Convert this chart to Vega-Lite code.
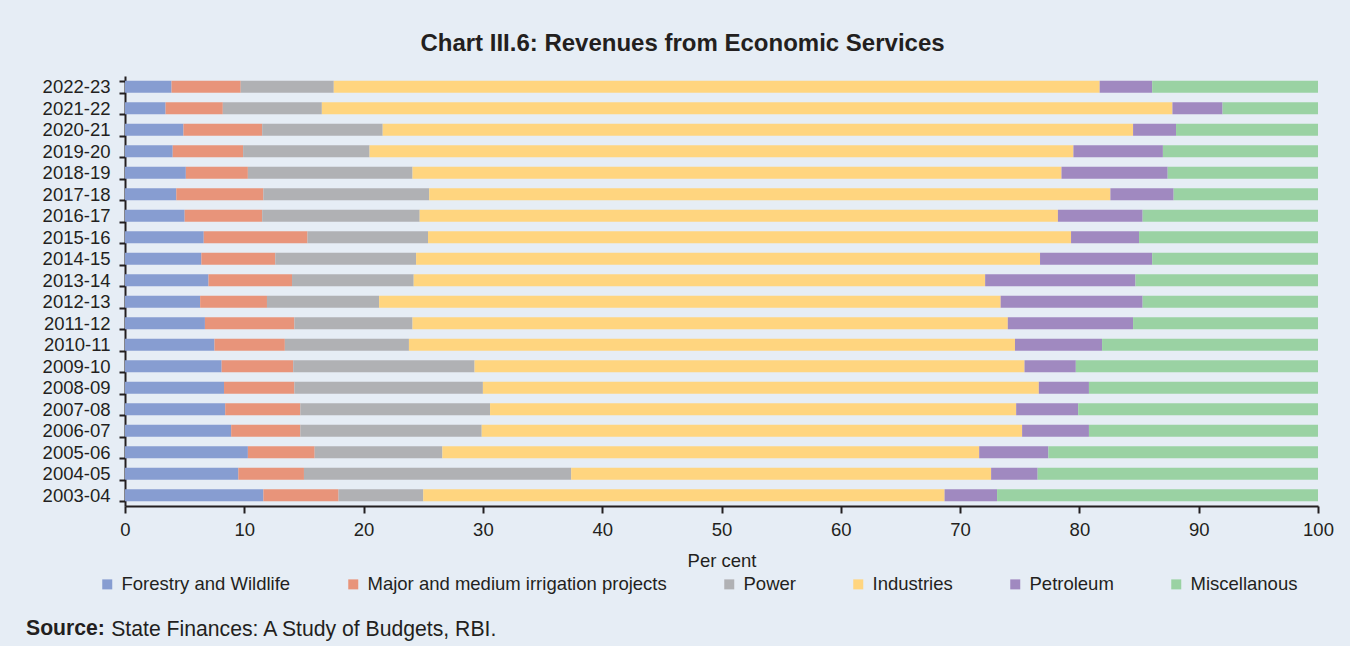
{
  "$schema": "https://vega.github.io/schema/vega-lite/v6.json",
  "width": 1193,
  "height": 430,
  "autosize": {"type": "none"},
  "padding": {"left": 125, "top": 76, "right": 32, "bottom": 140},
  "background": "#e6edf5",
  "config": {
    "view": {"stroke": null},
    "font": "Liberation Sans",
    "text": {"font": "Liberation Sans"}
  },
  "title": {
    "text": "Chart III.6: Revenues from Economic Services",
    "font": "Liberation Sans",
    "fontSize": 24,
    "fontWeight": "bold",
    "color": "#231f20",
    "anchor": "middle",
    "frame": "group",
    "dx": -39,
    "offset": 11
  },
  "layer": [
    {
      "data": {
        "values": [
          {"year": "2022-23", "category": "Forestry and Wildlife", "value": 3.9},
          {"year": "2022-23", "category": "Major and medium irrigation projects", "value": 5.8},
          {"year": "2022-23", "category": "Power", "value": 7.8},
          {"year": "2022-23", "category": "Industries", "value": 64.2},
          {"year": "2022-23", "category": "Petroleum", "value": 4.4},
          {"year": "2022-23", "category": "Miscellanous", "value": 13.9},
          {"year": "2021-22", "category": "Forestry and Wildlife", "value": 3.4},
          {"year": "2021-22", "category": "Major and medium irrigation projects", "value": 4.8},
          {"year": "2021-22", "category": "Power", "value": 8.3},
          {"year": "2021-22", "category": "Industries", "value": 71.3},
          {"year": "2021-22", "category": "Petroleum", "value": 4.2},
          {"year": "2021-22", "category": "Miscellanous", "value": 8.0},
          {"year": "2020-21", "category": "Forestry and Wildlife", "value": 4.9},
          {"year": "2020-21", "category": "Major and medium irrigation projects", "value": 6.6},
          {"year": "2020-21", "category": "Power", "value": 10.1},
          {"year": "2020-21", "category": "Industries", "value": 62.9},
          {"year": "2020-21", "category": "Petroleum", "value": 3.6},
          {"year": "2020-21", "category": "Miscellanous", "value": 11.9},
          {"year": "2019-20", "category": "Forestry and Wildlife", "value": 4.0},
          {"year": "2019-20", "category": "Major and medium irrigation projects", "value": 5.9},
          {"year": "2019-20", "category": "Power", "value": 10.6},
          {"year": "2019-20", "category": "Industries", "value": 59.0},
          {"year": "2019-20", "category": "Petroleum", "value": 7.5},
          {"year": "2019-20", "category": "Miscellanous", "value": 13.0},
          {"year": "2018-19", "category": "Forestry and Wildlife", "value": 5.1},
          {"year": "2018-19", "category": "Major and medium irrigation projects", "value": 5.2},
          {"year": "2018-19", "category": "Power", "value": 13.8},
          {"year": "2018-19", "category": "Industries", "value": 54.4},
          {"year": "2018-19", "category": "Petroleum", "value": 8.9},
          {"year": "2018-19", "category": "Miscellanous", "value": 12.6},
          {"year": "2017-18", "category": "Forestry and Wildlife", "value": 4.3},
          {"year": "2017-18", "category": "Major and medium irrigation projects", "value": 7.3},
          {"year": "2017-18", "category": "Power", "value": 13.9},
          {"year": "2017-18", "category": "Industries", "value": 57.1},
          {"year": "2017-18", "category": "Petroleum", "value": 5.3},
          {"year": "2017-18", "category": "Miscellanous", "value": 12.1},
          {"year": "2016-17", "category": "Forestry and Wildlife", "value": 5.0},
          {"year": "2016-17", "category": "Major and medium irrigation projects", "value": 6.5},
          {"year": "2016-17", "category": "Power", "value": 13.2},
          {"year": "2016-17", "category": "Industries", "value": 53.5},
          {"year": "2016-17", "category": "Petroleum", "value": 7.1},
          {"year": "2016-17", "category": "Miscellanous", "value": 14.7},
          {"year": "2015-16", "category": "Forestry and Wildlife", "value": 6.6},
          {"year": "2015-16", "category": "Major and medium irrigation projects", "value": 8.7},
          {"year": "2015-16", "category": "Power", "value": 10.1},
          {"year": "2015-16", "category": "Industries", "value": 53.9},
          {"year": "2015-16", "category": "Petroleum", "value": 5.7},
          {"year": "2015-16", "category": "Miscellanous", "value": 15.0},
          {"year": "2014-15", "category": "Forestry and Wildlife", "value": 6.4},
          {"year": "2014-15", "category": "Major and medium irrigation projects", "value": 6.2},
          {"year": "2014-15", "category": "Power", "value": 11.8},
          {"year": "2014-15", "category": "Industries", "value": 52.3},
          {"year": "2014-15", "category": "Petroleum", "value": 9.4},
          {"year": "2014-15", "category": "Miscellanous", "value": 13.9},
          {"year": "2013-14", "category": "Forestry and Wildlife", "value": 7.0},
          {"year": "2013-14", "category": "Major and medium irrigation projects", "value": 7.0},
          {"year": "2013-14", "category": "Power", "value": 10.2},
          {"year": "2013-14", "category": "Industries", "value": 47.9},
          {"year": "2013-14", "category": "Petroleum", "value": 12.6},
          {"year": "2013-14", "category": "Miscellanous", "value": 15.3},
          {"year": "2012-13", "category": "Forestry and Wildlife", "value": 6.3},
          {"year": "2012-13", "category": "Major and medium irrigation projects", "value": 5.6},
          {"year": "2012-13", "category": "Power", "value": 9.4},
          {"year": "2012-13", "category": "Industries", "value": 52.1},
          {"year": "2012-13", "category": "Petroleum", "value": 11.9},
          {"year": "2012-13", "category": "Miscellanous", "value": 14.7},
          {"year": "2011-12", "category": "Forestry and Wildlife", "value": 6.7},
          {"year": "2011-12", "category": "Major and medium irrigation projects", "value": 7.5},
          {"year": "2011-12", "category": "Power", "value": 9.9},
          {"year": "2011-12", "category": "Industries", "value": 49.9},
          {"year": "2011-12", "category": "Petroleum", "value": 10.5},
          {"year": "2011-12", "category": "Miscellanous", "value": 15.5},
          {"year": "2010-11", "category": "Forestry and Wildlife", "value": 7.5},
          {"year": "2010-11", "category": "Major and medium irrigation projects", "value": 5.9},
          {"year": "2010-11", "category": "Power", "value": 10.4},
          {"year": "2010-11", "category": "Industries", "value": 50.8},
          {"year": "2010-11", "category": "Petroleum", "value": 7.3},
          {"year": "2010-11", "category": "Miscellanous", "value": 18.1},
          {"year": "2009-10", "category": "Forestry and Wildlife", "value": 8.1},
          {"year": "2009-10", "category": "Major and medium irrigation projects", "value": 6.0},
          {"year": "2009-10", "category": "Power", "value": 15.2},
          {"year": "2009-10", "category": "Industries", "value": 46.1},
          {"year": "2009-10", "category": "Petroleum", "value": 4.3},
          {"year": "2009-10", "category": "Miscellanous", "value": 20.3},
          {"year": "2008-09", "category": "Forestry and Wildlife", "value": 8.3},
          {"year": "2008-09", "category": "Major and medium irrigation projects", "value": 5.9},
          {"year": "2008-09", "category": "Power", "value": 15.8},
          {"year": "2008-09", "category": "Industries", "value": 46.6},
          {"year": "2008-09", "category": "Petroleum", "value": 4.2},
          {"year": "2008-09", "category": "Miscellanous", "value": 19.2},
          {"year": "2007-08", "category": "Forestry and Wildlife", "value": 8.4},
          {"year": "2007-08", "category": "Major and medium irrigation projects", "value": 6.3},
          {"year": "2007-08", "category": "Power", "value": 15.9},
          {"year": "2007-08", "category": "Industries", "value": 44.1},
          {"year": "2007-08", "category": "Petroleum", "value": 5.2},
          {"year": "2007-08", "category": "Miscellanous", "value": 20.1},
          {"year": "2006-07", "category": "Forestry and Wildlife", "value": 8.9},
          {"year": "2006-07", "category": "Major and medium irrigation projects", "value": 5.8},
          {"year": "2006-07", "category": "Power", "value": 15.2},
          {"year": "2006-07", "category": "Industries", "value": 45.3},
          {"year": "2006-07", "category": "Petroleum", "value": 5.6},
          {"year": "2006-07", "category": "Miscellanous", "value": 19.2},
          {"year": "2005-06", "category": "Forestry and Wildlife", "value": 10.3},
          {"year": "2005-06", "category": "Major and medium irrigation projects", "value": 5.6},
          {"year": "2005-06", "category": "Power", "value": 10.7},
          {"year": "2005-06", "category": "Industries", "value": 45.0},
          {"year": "2005-06", "category": "Petroleum", "value": 5.8},
          {"year": "2005-06", "category": "Miscellanous", "value": 22.6},
          {"year": "2004-05", "category": "Forestry and Wildlife", "value": 9.5},
          {"year": "2004-05", "category": "Major and medium irrigation projects", "value": 5.5},
          {"year": "2004-05", "category": "Power", "value": 22.4},
          {"year": "2004-05", "category": "Industries", "value": 35.2},
          {"year": "2004-05", "category": "Petroleum", "value": 3.9},
          {"year": "2004-05", "category": "Miscellanous", "value": 23.5},
          {"year": "2003-04", "category": "Forestry and Wildlife", "value": 11.6},
          {"year": "2003-04", "category": "Major and medium irrigation projects", "value": 6.3},
          {"year": "2003-04", "category": "Power", "value": 7.1},
          {"year": "2003-04", "category": "Industries", "value": 43.7},
          {"year": "2003-04", "category": "Petroleum", "value": 4.4},
          {"year": "2003-04", "category": "Miscellanous", "value": 26.9}
        ]
      },
      "transform": [
        {"calculate": "indexof(['Forestry and Wildlife', 'Major and medium irrigation projects', 'Power', 'Industries', 'Petroleum', 'Miscellanous'], datum.category)", "as": "stackOrder"}
      ],
      "mark": {"type": "bar"},
      "encoding": {
        "y": {
          "field": "year",
          "type": "nominal",
          "sort": "descending",
          "scale": {"paddingInner": 0.44},
          "axis": {
            "title": null,
            "labelFont": "Liberation Sans",
            "labelFontSize": 18.5,
            "labelColor": "#231f20",
            "tickBand": "extent",
            "tickSize": 6,
            "tickWidth": 2,
            "tickColor": "#231f20",
            "labelPadding": 9,
            "domainColor": "#231f20",
            "domainWidth": 2,
            "grid": false
          }
        },
        "x": {
          "field": "value",
          "type": "quantitative",
          "stack": "zero",
          "scale": {"domain": [0, 100], "nice": false},
          "axis": {
            "title": "Per cent",
            "values": [0, 10, 20, 30, 40, 50, 60, 70, 80, 90, 100],
            "labelFont": "Liberation Sans",
            "labelFontSize": 18.5,
            "labelColor": "#231f20",
            "labelFlush": false,
            "tickSize": 7,
            "tickWidth": 2,
            "tickColor": "#231f20",
            "labelPadding": 7,
            "domainColor": "#231f20",
            "domainWidth": 2,
            "titleFont": "Liberation Sans",
            "titleFontSize": 18.5,
            "titleFontWeight": "normal",
            "titleColor": "#231f20",
            "titlePadding": 13,
            "grid": false
          }
        },
        "order": {"field": "stackOrder", "type": "quantitative", "sort": "ascending"},
        "color": {
          "field": "category",
          "type": "nominal",
          "sort": ["Forestry and Wildlife", "Major and medium irrigation projects", "Power", "Industries", "Petroleum", "Miscellanous"],
          "scale": {
            "domain": ["Forestry and Wildlife", "Major and medium irrigation projects", "Power", "Industries", "Petroleum", "Miscellanous"],
            "range": ["#879dd1", "#e8947a", "#b0b1b4", "#ffd57f", "#a089c0", "#9ad2a3"]
          },
          "legend": {
            "title": null,
            "orient": "none",
            "legendX": -27,
            "legendY": 499,
            "direction": "horizontal",
            "columns": 6,
            "columnPadding": 53,
            "padding": 0,
            "symbolType": "square",
            "symbolSize": 100,
            "symbolStrokeWidth": 0,
            "labelFont": "Liberation Sans",
            "labelFontSize": 18.5,
            "labelColor": "#231f20",
            "labelOffset": 5,
            "labelLimit": 600
          }
        }
      }
    },
    {
      "data": {"values": [{"source": "State Finances: A Study of Budgets, RBI."}]},
      "mark": {"type": "point", "opacity": 0},
      "encoding": {
        "shape": {
          "field": "source",
          "type": "nominal",
          "legend": {
            "title": "Source:",
            "titleOrient": "left",
            "orient": "none",
            "legendX": -99,
            "legendY": 543,
            "padding": 0,
            "titleFont": "Liberation Sans",
            "titleFontSize": 21.2,
            "titleFontWeight": "bold",
            "titleColor": "#231f20",
            "titlePadding": -15,
            "labelFont": "Liberation Sans",
            "labelFontSize": 21.2,
            "labelColor": "#231f20",
            "labelOffset": 0,
            "labelLimit": 800,
            "symbolSize": 0,
            "symbolOpacity": 0,
            "symbolStrokeWidth": 0
          }
        }
      }
    }
  ]
}
